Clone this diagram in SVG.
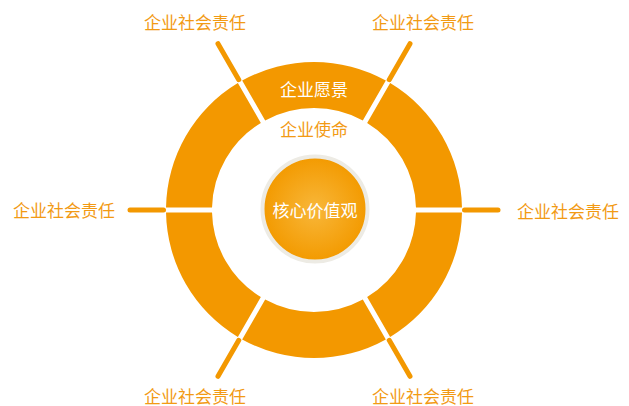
<svg xmlns="http://www.w3.org/2000/svg" width="629" height="406" viewBox="0 0 629 406">
<style>
.seg{fill:#f39800}
.lbl{font-family:"Noto Sans CJK SC","Noto Sans",sans-serif;font-size:17px;fill:#f29a14;text-anchor:middle;dominant-baseline:central}
.wt{fill:#ffffff}
.conn line{stroke:#f39800;stroke-width:5;stroke-linecap:round}
</style>
<defs>
<radialGradient id="cg" cx="50%" cy="50%" r="50%">
<stop offset="0" stop-color="#f8b73a"/>
<stop offset="1" stop-color="#f39a00"/>
</radialGradient>
</defs>
<rect width="629" height="406" fill="#ffffff"/>
<g class="conn" id="connectors">
<line x1="163.5" y1="210" x2="130" y2="210"/>
<line x1="464.5" y1="210" x2="498" y2="210"/>
<line x1="238.75" y1="79.66" x2="218" y2="43.72"/>
<line x1="389.25" y1="79.66" x2="410" y2="43.72"/>
<line x1="389.25" y1="340.34" x2="410" y2="376.28"/>
<line x1="238.75" y1="340.34" x2="218" y2="376.28"/>
</g>
<g id="seg-vision">
<path class="seg" d="M242.175,80.596 A148,148 0 0 1 385.825,80.596 L362.820,120.442 A102,102 0 0 0 265.180,120.442 Z"/>
<text class="lbl wt" x="314" y="88">企业愿景</text>
</g>
<g id="seg-ne"><path class="seg" d="M390.155,83.096 A148,148 0 0 1 461.979,207.5 L415.969,207.5 A102,102 0 0 0 367.150,122.942 Z"/></g>
<g id="seg-se"><path class="seg" d="M461.979,212.5 A148,148 0 0 1 390.155,336.904 L367.150,297.058 A102,102 0 0 0 415.969,212.5 Z"/></g>
<g id="seg-s"><path class="seg" d="M385.825,339.404 A148,148 0 0 1 242.175,339.404 L265.180,299.558 A102,102 0 0 0 362.820,299.558 Z"/></g>
<g id="seg-sw"><path class="seg" d="M237.845,336.904 A148,148 0 0 1 166.021,212.5 L212.031,212.5 A102,102 0 0 0 260.850,297.058 Z"/></g>
<g id="seg-nw"><path class="seg" d="M166.021,207.5 A148,148 0 0 1 237.845,83.096 L260.850,122.942 A102,102 0 0 0 212.031,207.5 Z"/></g>
<g id="mission"><text class="lbl" x="314" y="128">企业使命</text></g>
<g id="core">
<circle cx="315" cy="209" r="52.5" fill="url(#cg)" stroke="#edebe4" stroke-width="4"/>
<text class="lbl wt" x="315" y="209">核心价值观</text>
</g>
<g id="csr-tl"><text class="lbl" x="195" y="21">企业社会责任</text></g>
<g id="csr-tr"><text class="lbl" x="423" y="21">企业社会责任</text></g>
<g id="csr-l"><text class="lbl" x="64" y="209">企业社会责任</text></g>
<g id="csr-r"><text class="lbl" x="568" y="210">企业社会责任</text></g>
<g id="csr-bl"><text class="lbl" x="195" y="395">企业社会责任</text></g>
<g id="csr-br"><text class="lbl" x="423" y="395">企业社会责任</text></g>
</svg>
